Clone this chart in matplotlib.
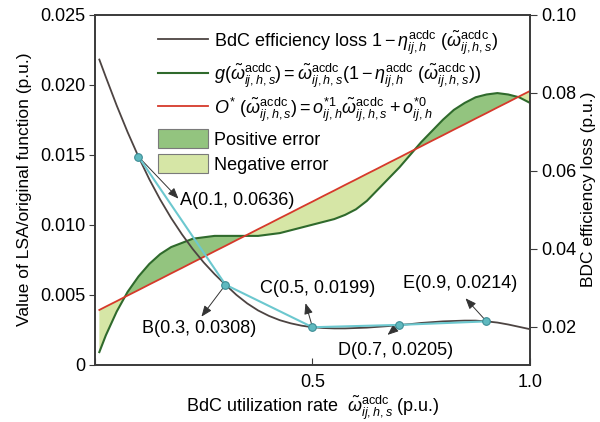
import numpy as np
import matplotlib
matplotlib.use('Agg')
import matplotlib.pyplot as plt
from matplotlib.lines import Line2D
from matplotlib.patches import Patch

# utilization rate grid (p.u.)
w = [0.01, 0.025, 0.05, 0.075, 0.10, 0.125, 0.15, 0.175, 0.20, 0.225,
     0.25, 0.275, 0.30, 0.325, 0.35, 0.375, 0.40, 0.425, 0.45, 0.475,
     0.50, 0.525, 0.55, 0.575, 0.60, 0.625, 0.65, 0.675, 0.70, 0.725,
     0.75, 0.775, 0.80, 0.825, 0.85, 0.875, 0.90, 0.925, 0.95, 0.975, 1.00]
# BdC efficiency loss 1 - eta (right axis)
loss = [0.0885, 0.0840, 0.0767, 0.0699, 0.0636, 0.0578, 0.0526, 0.0479,
        0.0437, 0.0399, 0.0365, 0.0335, 0.0308, 0.0282, 0.0260, 0.0242,
        0.0228, 0.0217, 0.0209, 0.0203, 0.0199, 0.0197, 0.0196, 0.0196,
        0.0197, 0.0198, 0.0200, 0.0202, 0.0205, 0.0207, 0.0210, 0.0212,
        0.0214, 0.0215, 0.0216, 0.0216, 0.0214, 0.0211, 0.0206, 0.0200,
        0.0194]
# original function g (left axis)
g = [0.0009, 0.0021, 0.0038, 0.0052, 0.0063, 0.0072, 0.0079, 0.0084,
     0.0087, 0.0090, 0.0091, 0.0092, 0.0092, 0.0092, 0.0092, 0.0092,
     0.0093, 0.0094, 0.0096, 0.0098, 0.0100, 0.0102, 0.0104, 0.0107,
     0.0111, 0.0117, 0.0125, 0.0133, 0.0141, 0.0150, 0.0159, 0.0167,
     0.0175, 0.0182, 0.0187, 0.0191, 0.0193, 0.0194, 0.0193, 0.0191,
     0.0187]
# linear approximation O* (left axis)
o_lin = [0.00391, 0.00415, 0.00454, 0.00494, 0.00533, 0.00573, 0.00612,
         0.00652, 0.00691, 0.00731, 0.00770, 0.00810, 0.00849, 0.00889,
         0.00928, 0.00968, 0.01007, 0.01047, 0.01086, 0.01126, 0.01165,
         0.01205, 0.01244, 0.01284, 0.01323, 0.01363, 0.01402, 0.01442,
         0.01481, 0.01521, 0.01560, 0.01600, 0.01639, 0.01679, 0.01718,
         0.01758, 0.01797, 0.01837, 0.01876, 0.01916, 0.01955]

# breakpoints of the piecewise approximation
pt_names = ['A', 'B', 'C', 'D', 'E']
pt_w = [0.1, 0.3, 0.5, 0.7, 0.9]
pt_loss = [0.0636, 0.0308, 0.0199, 0.0205, 0.0214]

plt.rcParams['font.family'] = ['Liberation Sans', 'DejaVu Sans']
plt.rcParams['mathtext.fontset'] = 'custom'
plt.rcParams['mathtext.rm'] = 'Liberation Sans'
plt.rcParams['mathtext.it'] = 'Liberation Sans:italic'
plt.rcParams['font.size'] = 13

c_loss = '#4d4442'
c_g = '#2f6a2c'
c_o = '#d6392b'
c_pos = '#93c47f'
c_neg = '#d6e6a6'
c_pw = '#6cc8cf'
c_spine = '#3a3a3a'

fig = plt.figure(figsize=(6, 4.22), dpi=100)
ax1 = fig.add_axes([0.1583, 0.1358, 0.725, 0.8294])
ax2 = ax1.twinx()

wa = np.array(w)
ga = np.array(g)
oa = np.array(o_lin)
ax1.fill_between(wa, ga, oa, where=ga >= oa, interpolate=True,
                 color=c_pos, linewidth=0, zorder=1)
ax1.fill_between(wa, ga, oa, where=ga <= oa, interpolate=True,
                 color=c_neg, linewidth=0, zorder=1)
ax1.plot(w, g, color=c_g, lw=1.5, zorder=3)
ax1.plot(w, o_lin, color=c_o, lw=1.3, zorder=3)

ax2.plot(w, loss, color=c_loss, lw=1.3, zorder=3)
ax2.plot(pt_w, pt_loss, color=c_pw, lw=1.5, marker='o', ms=5.5,
         mfc='#5fb9bf', mec='#3d8d95', mew=0.8, zorder=4)

# arrow head offsets / label offsets (points) relative to each breakpoint
head_off = [(28.8, -30.2), (-17.3, -23.0), (-5.0, 17.3), (-8.6, -7.2), (-15.1, 16.6)]
text_off = [(30.2, -31.7), (-18.7, -31.7), (3.6, 28.1), (-2.9, -18.7), (-18.7, 27.4)]
text_ha = ['left', 'center', 'center', 'center', 'center']
for name, x, y, ho, to, ha in zip(pt_names, pt_w, pt_loss, head_off, text_off, text_ha):
    ax2.annotate('', xy=(x, y), xytext=ho, textcoords='offset points',
                 arrowprops=dict(arrowstyle='<|-,head_length=0.5,head_width=0.2',
                                 color='#333333', lw=0.7, shrinkA=0, shrinkB=2))
    ax2.annotate(f'{name}({x:g}, {y:.4f})', xy=(x, y), xytext=to,
                 textcoords='offset points', ha=ha, va='center', fontsize=13)

ax1.set_xlim(0, 1.0)
ax1.set_ylim(0, 0.025)
ax2.set_ylim(0.0103, 0.10)

ax1.set_xticks([0, 0.5, 1.0])
ax1.set_xticklabels(['', '0.5', '1.0'])
ax1.set_yticks([0, 0.005, 0.010, 0.015, 0.020, 0.025])
ax1.set_yticklabels(['0', '0.005', '0.010', '0.015', '0.020', '0.025'])
ax2.set_yticks([0.02, 0.04, 0.06, 0.08, 0.10])
ax2.set_yticklabels(['0.02', '0.04', '0.06', '0.08', '0.10'])

ax1.tick_params(axis='x', direction='in', length=5, pad=7, color=c_spine)
ax1.tick_params(axis='y', direction='out', length=4, pad=3, color=c_spine)
ax2.tick_params(axis='y', direction='out', length=5, pad=3, color=c_spine)
for ax in (ax1, ax2):
    for s in ax.spines.values():
        s.set_color(c_spine)
        s.set_linewidth(1.2)

ax1.set_xlabel(r'BdC utilization rate  $\tilde{\omega}_{ij,h,s}^{\mathrm{acdc}}$ (p.u.)',
               labelpad=2)
ax1.set_ylabel('Value of LSA/original function (p.u.)', labelpad=6, fontsize=12.5)
ax2.set_ylabel('BDC efficiency loss (p.u.)', labelpad=3, fontsize=12.5)

handles = [
    Line2D([], [], color=c_loss, lw=1.3),
    Line2D([], [], color=c_g, lw=1.5),
    Line2D([], [], color=c_o, lw=1.3),
    Patch(facecolor=c_pos, edgecolor='#7a7a7a', lw=0.8),
    Patch(facecolor=c_neg, edgecolor='#7a7a7a', lw=0.8),
]
labels = [
    r'BdC efficiency loss $1-\eta_{ij,h}^{\mathrm{acdc}}\ (\tilde{\omega}_{ij,h,s}^{\mathrm{acdc}})$',
    r'$g(\tilde{\omega}_{ij,h,s}^{\mathrm{acdc}})=\tilde{\omega}_{ij,h,s}^{\mathrm{acdc}}(1-\eta_{ij,h}^{\mathrm{acdc}}\ (\tilde{\omega}_{ij,h,s}^{\mathrm{acdc}}))$',
    r'$O^{*}\ (\tilde{\omega}_{ij,h,s}^{\mathrm{acdc}})=o_{ij,h}^{*1}\tilde{\omega}_{ij,h,s}^{\mathrm{acdc}}+o_{ij,h}^{*0}$',
    'Positive error',
    'Negative error',
]
ax2.legend(handles, labels, loc='upper left', bbox_to_anchor=(0.145, 0.961),
           frameon=False, borderpad=0, borderaxespad=0, handlelength=2.75,
           handleheight=1.2, handletextpad=0.35, labelspacing=0.3, fontsize=13)

fig.savefig('out.png', dpi=100)
